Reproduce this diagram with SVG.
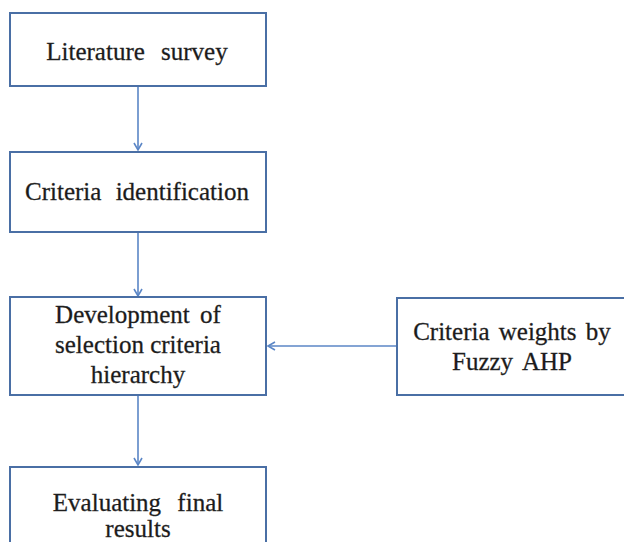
<svg xmlns="http://www.w3.org/2000/svg" width="624" height="542" viewBox="0 0 624 542">
<defs>
<style>
.box{fill:#ffffff;stroke:#4a6fa5;stroke-width:2}
.lbl{font-family:"Liberation Serif","Times New Roman",serif;font-size:25px;fill:#1a1a1a;stroke:#2a2a2a;stroke-width:0.3;text-anchor:middle}
.conn{stroke:#5b86c6;stroke-width:1.6;fill:none}
</style>
<marker id="arr" markerWidth="10" markerHeight="10" refX="8" refY="5" orient="auto" markerUnits="userSpaceOnUse">
<path d="M1,1 L8,5 L1,9" fill="none" stroke="#5b86c6" stroke-width="1.6"/>
</marker>
</defs>
<rect width="624" height="542" fill="#ffffff"/>
<g id="connectors">
<line class="conn" x1="138" y1="86" x2="138" y2="150" marker-end="url(#arr)"/>
<line class="conn" x1="138" y1="232" x2="138" y2="296" marker-end="url(#arr)"/>
<line class="conn" x1="138" y1="395" x2="138" y2="465" marker-end="url(#arr)"/>
<line class="conn" x1="397" y1="346" x2="268" y2="346" marker-end="url(#arr)"/>
</g>
<g id="literature-survey">
<rect class="box" x="10" y="13" width="256" height="73"/>
<text class="lbl" x="137" y="60" word-spacing="10">Literature survey</text>
</g>
<g id="criteria-identification">
<rect class="box" x="10" y="152" width="256" height="80"/>
<text class="lbl" x="137" y="200" word-spacing="8">Criteria identification</text>
</g>
<g id="development-hierarchy">
<rect class="box" x="10" y="297" width="256" height="98"/>
<text class="lbl" x="138" y="323" word-spacing="4">Development of</text>
<text class="lbl" x="138" y="353">selection criteria</text>
<text class="lbl" x="138" y="383">hierarchy</text>
</g>
<g id="criteria-weights">
<rect class="box" x="397" y="298" width="232" height="97"/>
<text class="lbl" x="512" y="340" word-spacing="3">Criteria weights by</text>
<text class="lbl" x="512" y="370" word-spacing="4">Fuzzy AHP</text>
</g>
<g id="evaluating-results">
<rect class="box" x="10" y="467" width="256" height="90"/>
<text class="lbl" x="138" y="511" word-spacing="10">Evaluating final</text>
<text class="lbl" x="138" y="537">results</text>
</g>
</svg>
